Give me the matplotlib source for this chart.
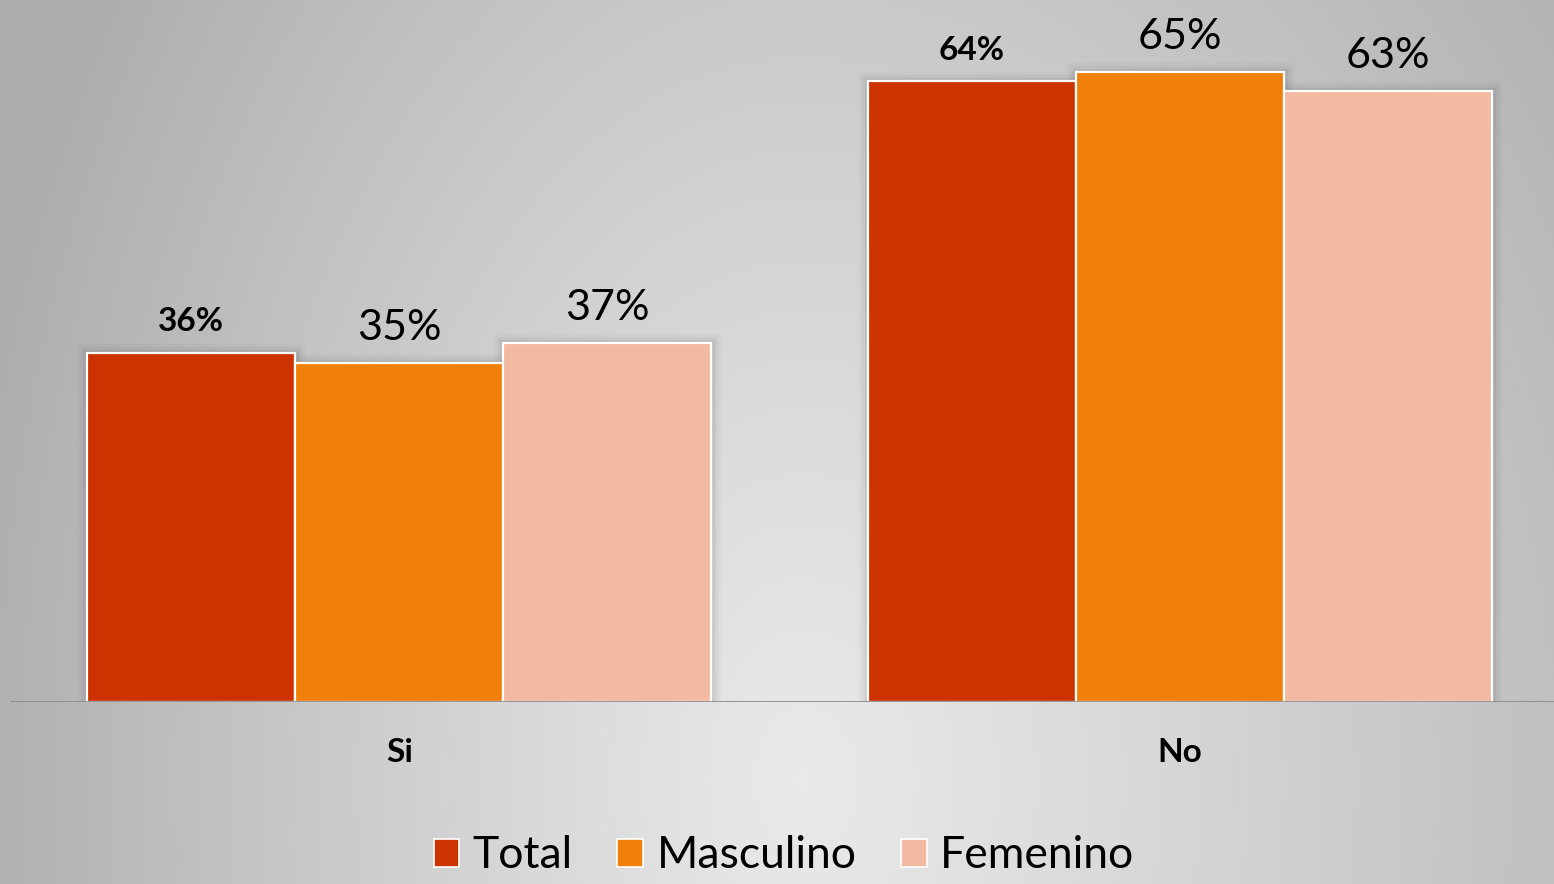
import numpy as np
import matplotlib
matplotlib.use("Agg")
import matplotlib.pyplot as plt
from matplotlib.patches import Patch

plt.rcParams['font.family'] = ['Lato', 'DejaVu Sans']

categories = ["Si", "No"]
series_names = ["Total", "Masculino", "Femenino"]
total = [36, 64]
masculino = [35, 65]
femenino = [37, 63]
labels_total = ["36%", "64%"]
labels_masc = ["35%", "65%"]
labels_fem = ["37%", "63%"]

colors = ["#CD3300", "#F0800A", "#F4B9A1"]

W, H = 1554, 884
fig = plt.figure(figsize=(W / 100, H / 100), dpi=100)

# background radial gradient
bg = fig.add_axes([0, 0, 1, 1], zorder=-10)
yy, xx = np.mgrid[0:H, 0:W]
cx, cy = 800, 780
sx = np.where(xx < cx, 800.0, 1000.0)
d = np.sqrt(((xx - cx) / sx) ** 2 + ((yy - cy) / 1300.0) ** 2)
d = np.clip(d, 0, 1.05)
val = 0.915 - 0.22 * d ** 1.1
img = np.dstack([val, val, val])
bg.imshow(img, aspect='auto', extent=(0, 1, 0, 1), origin='upper')
bg.set_axis_off()

ax = fig.add_axes([10 / W, 182 / H, 1544 / W, 702 / H])
ax.patch.set_alpha(0)
ax.set_xlim(-0.4987, 1.4795)
ax.set_ylim(0, 72.4)

x = np.arange(len(categories))
w = 0.8 / 3
series = [total, masculino, femenino]
labels = [labels_total, labels_masc, labels_fem]

# soft shadows
for i, vals in enumerate(series):
    xs = x + (i - 1) * w
    for lw, a in [(14, 0.025), (9, 0.035), (5, 0.05)]:
        ax.bar(xs, vals, w, facecolor='none', edgecolor='black', linewidth=lw,
               alpha=a, zorder=1)

for i, vals in enumerate(series):
    xs = x + (i - 1) * w
    ax.bar(xs, vals, w, color=colors[i], edgecolor='white', linewidth=1.6,
           zorder=3, label=series_names[i])
    for xi, v, lab in zip(xs, vals, labels[i]):
        if i == 0:
            ax.annotate(lab, (xi, v), xytext=(0, 15.5), textcoords='offset points',
                        ha='center', va='baseline', fontsize=24, fontweight='bold',
                        color='black', zorder=5)
        else:
            ax.annotate(lab, (xi, v), xytext=(0, 16.5), textcoords='offset points',
                        ha='center', va='baseline', fontsize=31,
                        color='black', zorder=5)

ax.axhline(0, color='#8c8c8c', linewidth=2, zorder=4)
for xi, c in zip(x, categories):
    ax.text(xi, -50 / 9.696, c, ha='center', va='center', fontsize=24,
            fontweight='bold', color='black')

for s in ax.spines.values():
    s.set_visible(False)
ax.set_xticks([])
ax.set_yticks([])

handles = [Patch(facecolor=colors[i], edgecolor='white', linewidth=1.2)
           for i in range(3)]
fig.legend(handles, series_names, loc='center', ncol=3,
           bbox_to_anchor=(784 / W, 1 - 856 / H), frameon=False, fontsize=32,
           handlelength=0.58, handleheight=0.58, handletextpad=0.3,
           columnspacing=1.0, borderaxespad=0)

fig.savefig("out.png", dpi=100)
